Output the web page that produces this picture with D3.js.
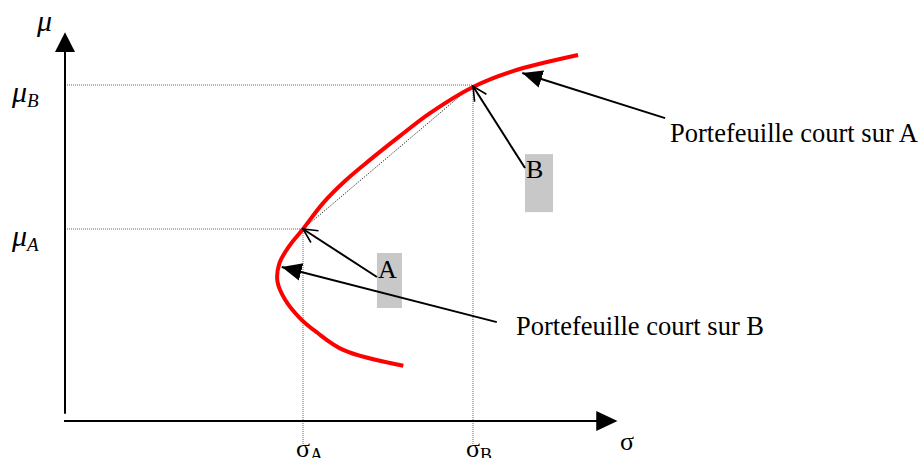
<!DOCTYPE html>
<html>
<head>
<meta charset="utf-8">
<script src="https://cdn.jsdelivr.net/npm/d3@7"></script>
<style>
  html, body { margin: 0; padding: 0; background: #fff; }
  svg { display: block; }
  text { font-family: "Liberation Serif", "Times New Roman", serif; fill: #000; }
</style>
</head>
<body>
<svg id="chart" width="923" height="458"></svg>
<script>
// Efficient frontier of two assets A and B in the (sigma, mu) plane
const frontierSigma = [19.9, 16.4, 14.8, 13.8, 12.95, 12.5, 12.6, 13.2, 14.0, 15.18, 16.47, 17.94, 19.71, 21.47, 24.0, 26.35, 30.18];
const frontierMu    = [2.3, 2.95, 3.7, 4.3, 5.05, 5.8, 6.55, 7.3, 8.0, 9.08, 10.0, 10.88, 11.88, 12.83, 13.92, 14.58, 15.25];

// The two single-asset portfolios
const assetNames = ["A", "B"];
const assetSigma = [14, 24];
const assetMu    = [8, 14];

// Annotation texts
const shortOnA = "Portefeuille court sur A";
const shortOnB = "Portefeuille court sur B";

const svg = d3.select("#chart");

const x = d3.scaleLinear().domain([0, 32.5]).range([65, 617.5]);
const y = d3.scaleLinear().domain([0, 16]).range([421, 37]);

// arrow markers
const defs = svg.append("defs");
defs.append("marker")
  .attr("id", "headFilled").attr("viewBox", "0 0 20 20")
  .attr("refX", 20).attr("refY", 10)
  .attr("markerWidth", 20).attr("markerHeight", 20)
  .attr("markerUnits", "userSpaceOnUse").attr("orient", "auto")
  .append("path").attr("d", "M0,1 L20,10 L0,19 Z").attr("fill", "#000");
defs.append("marker")
  .attr("id", "headOpen").attr("viewBox", "0 0 16 16")
  .attr("refX", 15).attr("refY", 8)
  .attr("markerWidth", 16).attr("markerHeight", 16)
  .attr("markerUnits", "userSpaceOnUse").attr("orient", "auto")
  .append("path").attr("d", "M1,1 L15,8 L1,15").attr("fill", "none")
  .attr("stroke", "#000").attr("stroke-width", 1.6);

// dotted guides
const guide = svg.append("g").attr("stroke", "#666").attr("stroke-width", 1)
  .attr("stroke-dasharray", "1,1").attr("fill", "none");
assetSigma.forEach((s, i) => {
  guide.append("line").attr("x1", x(0)).attr("x2", x(s)).attr("y1", y(assetMu[i])).attr("y2", y(assetMu[i]));
  guide.append("line").attr("x1", x(s)).attr("x2", x(s)).attr("y1", y(assetMu[i])).attr("y2", 446);
});
svg.append("line")
  .attr("x1", x(assetSigma[0])).attr("y1", y(assetMu[0]))
  .attr("x2", x(assetSigma[1])).attr("y2", y(assetMu[1]))
  .attr("stroke", "#000").attr("stroke-width", 1).attr("stroke-dasharray", "1,1.5");

// axes
const axes = svg.append("g").attr("stroke", "#000").attr("stroke-width", 2);
axes.append("line").attr("x1", x(0)).attr("x2", x(0)).attr("y1", y(0.3)).attr("y2", y(15.7));
axes.append("line").attr("x1", x(0) - 1).attr("x2", x(31.3)).attr("y1", y(0)).attr("y2", y(0));
svg.append("path")
  .attr("d", `M${x(0)},${y(16.2)} L${x(0) + 10},${y(15.37)} L${x(0) - 10},${y(15.37)} Z`)
  .attr("fill", "#000");
svg.append("path")
  .attr("d", `M${x(32.5)},${y(0)} L${x(31.25)},${y(0) - 10} L${x(31.25)},${y(0) + 10} Z`)
  .attr("fill", "#000");

// frontier curve
const pts = frontierSigma.map((s, i) => [x(s), y(frontierMu[i])]);
svg.append("path")
  .attr("d", d3.line().curve(d3.curveCatmullRom.alpha(0.5))(pts))
  .attr("fill", "none").attr("stroke", "#ff0000").attr("stroke-width", 4)
  .attr("stroke-linecap", "butt");

// gray boxes behind point labels
svg.append("rect").attr("x", x(27.06)).attr("y", y(11.12)).attr("width", 28).attr("height", 58).attr("fill", "#c8c8c8");
svg.append("rect").attr("x", x(18.35)).attr("y", y(7.0)).attr("width", 25).attr("height", 55).attr("fill", "#c8c8c8");

// annotation arrows
const arrow = (s0, m0, s1, m1, head) => svg.append("line")
  .attr("x1", x(s0)).attr("y1", y(m0)).attr("x2", x(s1)).attr("y2", y(m1))
  .attr("stroke", "#000").attr("stroke-width", 2)
  .attr("marker-end", `url(#${head})`);
arrow(35.3, 12.62, 26.9, 14.5, "headFilled");
arrow(25.4, 4.12, 12.75, 6.42, "headFilled");
arrow(27.06, 10.54, assetSigma[1], assetMu[1] - 0.05, "headOpen");
arrow(18.35, 6.0, assetSigma[0], assetMu[0], "headOpen");

// labels
svg.append("text").attr("x", 670).attr("y", 142).attr("font-size", 26.5).text(shortOnA);
svg.append("text").attr("x", 516).attr("y", 335).attr("font-size", 26.5).text(shortOnB);
svg.append("text").attr("x", x(27.06) + 1).attr("y", 178).attr("font-size", 26).text(assetNames[1]);
svg.append("text").attr("x", x(18.35) + 1).attr("y", 278).attr("font-size", 26).text(assetNames[0]);

// axis titles
svg.append("text").attr("x", 37).attr("y", 31).attr("font-size", 30).attr("font-style", "italic").text("μ");
const muLabel = (yy, sub) => {
  const t = svg.append("text").attr("x", 12).attr("y", yy).attr("font-size", 30).attr("font-style", "italic");
  t.append("tspan").text("μ");
  t.append("tspan").attr("font-size", 19).attr("dy", 5).text(sub);
};
muLabel(y(assetMu[1]) + 17, assetNames[1]);
muLabel(y(assetMu[0]) + 17, assetNames[0]);

svg.append("text").attr("x", 620).attr("y", 450).attr("font-size", 26).text("σ");
assetSigma.forEach((s, i) => {
  const t = svg.append("text").attr("x", x(s) - 7).attr("y", 457).attr("font-size", 26);
  t.append("tspan").text("σ");
  t.append("tspan").attr("font-size", 18).attr("dy", 4).text(assetNames[i]);
});
</script>
</body>
</html>
